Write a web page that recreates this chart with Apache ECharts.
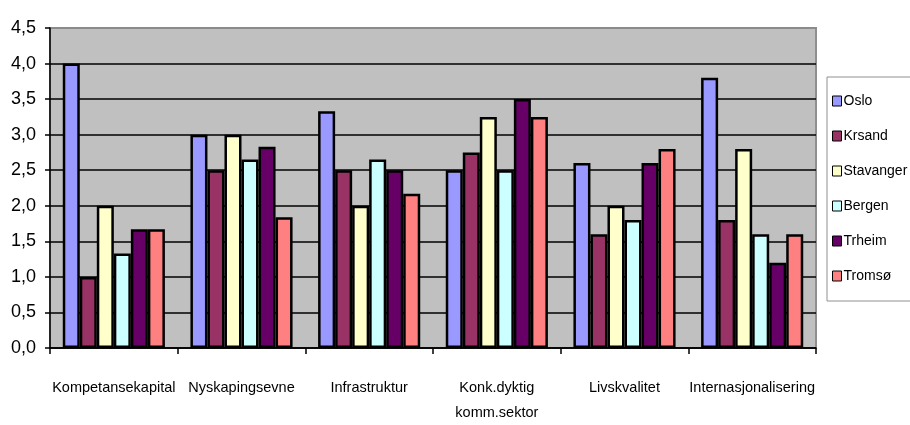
<!DOCTYPE html>
<html>
<head>
<meta charset="utf-8">
<script src="https://cdn.jsdelivr.net/npm/echarts@6/dist/echarts.min.js"></script>
<style>
  html, body { margin: 0; padding: 0; background: #ffffff; }
  #chart { width: 910px; height: 425px; }
</style>
</head>
<body>
<div id="chart"></div>
<script>
// Categories along the x axis
const categories = [
  'Kompetansekapital',
  'Nyskapingsevne',
  'Infrastruktur',
  'Konk.dyktig\nkomm.sektor',
  'Livskvalitet',
  'Internasjonalisering'
];

// Scores per city, one value per category
const oslo      = [4.0, 3.0, 3.33, 2.5, 2.6, 3.8];
const krsand    = [1.0, 2.5, 2.5, 2.75, 1.6, 1.8];
const stavanger = [2.0, 3.0, 2.0, 3.25, 2.0, 2.8];
const bergen    = [1.33, 2.65, 2.65, 2.5, 1.8, 1.6];
const trheim    = [1.67, 2.83, 2.5, 3.5, 2.6, 1.2];
const tromso    = [1.67, 1.84, 2.17, 3.25, 2.8, 1.6];

// Y axis ticks
const yTicks = [0, 0.5, 1, 1.5, 2, 2.5, 3, 3.5, 4, 4.5];

const seriesDefs = [
  { name: 'Oslo',      data: oslo,      color: '#9999ff' },
  { name: 'Krsand',    data: krsand,    color: '#993366' },
  { name: 'Stavanger', data: stavanger, color: '#ffffcc' },
  { name: 'Bergen',    data: bergen,    color: '#ccffff' },
  { name: 'Trheim',    data: trheim,    color: '#660066' },
  { name: 'Tromsø',    data: tromso,    color: '#ff8080' }
];

const FONT = '"Liberation Sans", Arial, sans-serif';

const chart = echarts.init(document.getElementById('chart'), null, { renderer: 'canvas' });

// Grid lines: black, except the top edge of the plot which is grey
const splitColors = yTicks.map((v, i) => (i === yTicks.length - 1 ? '#8a8a8a' : '#000000'));

chart.setOption({
  animation: false,
  backgroundColor: '#ffffff',
  textStyle: { fontFamily: FONT },
  grid: {
    left: 50,
    right: 94,
    top: 28,
    bottom: 72,
    show: true,
    backgroundColor: '#c0c0c0',
    borderColor: '#8f8f8f',
    borderWidth: 2
  },
  legend: {
    orient: 'vertical',
    left: 827,
    top: 77,
    padding: [15, 12, 16, 5],
    itemGap: 17,
    itemWidth: 9,
    itemHeight: 10,
    icon: 'rect',
    backgroundColor: '#ffffff',
    borderColor: '#909090',
    borderWidth: 1,
    itemStyle: { borderColor: '#000000', borderWidth: 1 },
    textStyle: { fontFamily: FONT, fontSize: 14, lineHeight: 18, color: '#000000', padding: [0, 0, 0, -3] },
    data: seriesDefs.map(s => s.name)
  },
  xAxis: {
    type: 'category',
    data: categories,
    axisLine: { show: true, lineStyle: { color: '#000000', width: 1.5 } },
    axisTick: { show: true, inside: false, length: 6, lineStyle: { color: '#000000', width: 1.5 } },
    axisLabel: {
      fontFamily: FONT,
      fontSize: 14.5,
      color: '#000000',
      margin: 27,
      lineHeight: 25,
      interval: 0
    },
    splitLine: { show: false }
  },
  yAxis: {
    type: 'value',
    min: 0,
    max: 4.5,
    interval: 0.5,
    axisLine: { show: true, lineStyle: { color: '#000000', width: 1.5 } },
    axisTick: { show: true, inside: false, length: 5, lineStyle: { color: '#000000', width: 1.5 } },
    axisLabel: {
      fontFamily: FONT,
      fontSize: 18,
      color: '#000000',
      margin: 14,
      formatter: v => v.toFixed(1).replace('.', ',')
    },
    splitLine: { show: true, lineStyle: { color: splitColors, width: 1.5 } }
  },
  series: seriesDefs.map(s => ({
    name: s.name,
    type: 'bar',
    data: s.data,
    barGap: '0%',
    barCategoryGap: '20%',
    itemStyle: { color: s.color, borderColor: '#000000', borderWidth: 2.5 },
    emphasis: { disabled: true }
  }))
});
</script>
</body>
</html>
